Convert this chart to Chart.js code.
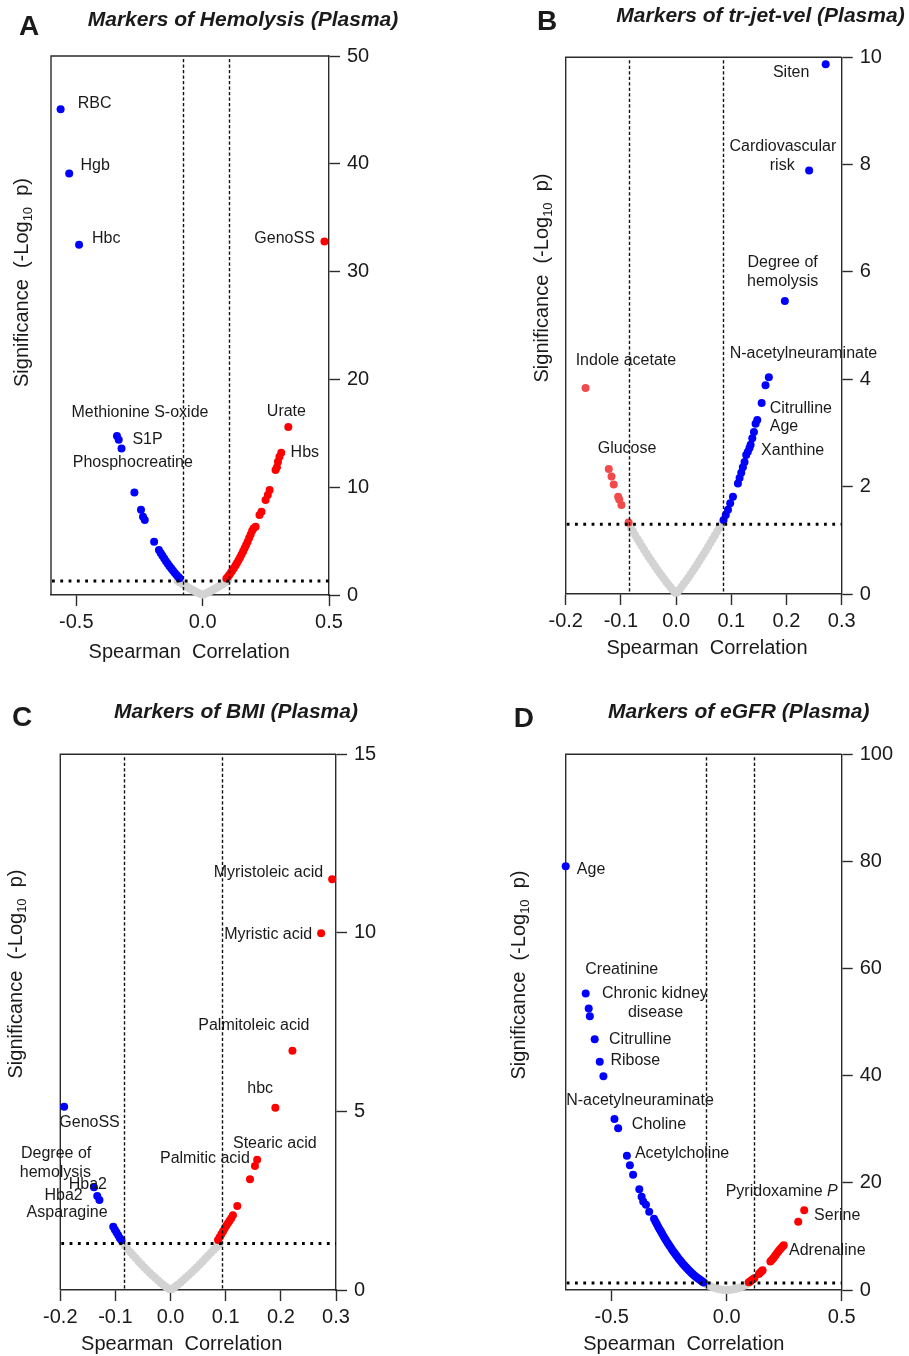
<!DOCTYPE html>
<html><head><meta charset="utf-8">
<script src="https://cdn.jsdelivr.net/npm/chart.js@4.4.1/dist/chart.umd.min.js"></script>
<style>
html,body{margin:0;padding:0;background:#fff;}
body{width:909px;height:1356px;position:relative;overflow:hidden;}
canvas{position:absolute;}
</style></head><body>
<canvas id="cA" width="455" height="680" style="left:0px;top:0px"></canvas>
<canvas id="cB" width="454" height="680" style="left:455px;top:0px"></canvas>
<canvas id="cC" width="455" height="676" style="left:0px;top:680px"></canvas>
<canvas id="cD" width="454" height="676" style="left:455px;top:680px"></canvas>
<script>
// ---------- Panel A: Hemolysis ----------
const hemolysisXTicks = [-0.5, 0.0, 0.5];
const hemolysisYTicks = [0, 10, 20, 30, 40, 50];
const hemolysisGray = [[-0.1,1.32],[-0.092,1.2],[-0.084,1.08],[-0.076,0.96],[-0.068,0.85],[-0.06,0.74],[-0.052,0.63],[-0.044,0.52],[-0.036,0.42],[-0.028,0.32],[-0.02,0.22],[-0.012,0.13],[-0.004,0.04],[0.004,0.04],[0.012,0.13],[0.02,0.22],[0.028,0.32],[0.036,0.42],[0.044,0.52],[0.052,0.63],[0.06,0.74],[0.068,0.85],[0.076,0.96],[0.084,1.08],[0.092,1.2],[0.1,1.32]];
const hemolysisBlue = [[-0.562,45.05],[-0.528,39.1],[-0.489,32.5],[-0.339,14.75],[-0.332,14.4],[-0.321,13.6],[-0.27,9.5],[-0.244,7.9],[-0.236,7.26],[-0.229,6.96],[-0.192,4.95],[-0.173,4.17],[-0.166,3.9],[-0.159,3.64],[-0.152,3.38],[-0.145,3.13],[-0.138,2.9],[-0.131,2.67],[-0.124,2.45],[-0.117,2.24],[-0.11,2.04],[-0.103,1.85],[-0.096,1.66],[-0.091,1.55]];
const hemolysisRed = [[0.094,1.53],[0.1,1.7],[0.106,1.89],[0.112,2.08],[0.118,2.29],[0.124,2.51],[0.13,2.74],[0.136,2.97],[0.142,3.22],[0.148,3.49],[0.154,3.76],[0.16,4.04],[0.166,4.33],[0.172,4.64],[0.178,4.95],[0.184,5.28],[0.19,5.62],[0.196,5.96],[0.202,6.2],[0.2095,6.34],[0.225,7.42],[0.233,7.73],[0.249,8.81],[0.258,9.28],[0.265,9.74],[0.2885,11.6],[0.294,11.85],[0.298,12.37],[0.304,12.83],[0.311,13.2],[0.339,15.58],[0.482,32.8]];
const hemolysisLabels = [
 {t:'RBC', x:-0.494, y:45.6, a:'left'},
 {t:'Hgb', x:-0.483, y:39.8, a:'left'},
 {t:'Hbc', x:-0.4375, y:33.1, a:'left'},
 {t:'GenoSS', x:0.444, y:33.1, a:'right'},
 {t:'Methionine S-oxide', x:-0.519, y:16.95, a:'left'},
 {t:'S1P', x:-0.278, y:14.4, a:'left'},
 {t:'Phosphocreatine', x:-0.514, y:12.27, a:'left'},
 {t:'Urate', x:0.254, y:17.0, a:'left'},
 {t:'Hbs', x:0.348, y:13.2, a:'left'}];

// ---------- Panel B: tr-jet-vel ----------
const trjetXTicks = [-0.2, -0.1, 0.0, 0.1, 0.2, 0.3];
const trjetYTicks = [0, 2, 4, 6, 8, 10];
const trjetGray = [[-0.086,1.313],[-0.082,1.24],[-0.078,1.167],[-0.074,1.096],[-0.07,1.026],[-0.066,0.958],[-0.062,0.89],[-0.058,0.824],[-0.054,0.759],[-0.05,0.695],[-0.046,0.632],[-0.042,0.571],[-0.038,0.511],[-0.034,0.452],[-0.03,0.394],[-0.026,0.338],[-0.022,0.282],[-0.018,0.228],[-0.014,0.175],[-0.01,0.124],[-0.006,0.073],[-0.002,0.024],
 [0.002,0.027],[0.006,0.08],[0.01,0.135],[0.014,0.19],[0.018,0.245],[0.022,0.305],[0.026,0.365],[0.03,0.425],[0.034,0.485],[0.038,0.55],[0.042,0.615],[0.046,0.68],[0.05,0.745],[0.054,0.81],[0.058,0.88],[0.062,0.95],[0.066,1.02],[0.07,1.09],[0.074,1.16],[0.078,1.23],[0.082,1.3],[0.084,1.33]];
const trjetBlue = [[0.086,1.38],[0.09,1.47],[0.094,1.57],[0.098,1.69],[0.103,1.81],[0.112,2.06],[0.115,2.16],[0.118,2.26],[0.121,2.36],[0.124,2.46],[0.127,2.59],[0.13,2.65],[0.133,2.72],[0.135,2.78],[0.138,2.9],[0.141,3.02],[0.144,3.17],[0.147,3.24],[0.155,3.56],[0.162,3.89],[0.168,4.04],[0.197,5.46],[0.241,7.89],[0.271,9.87]];
const trjetRed = [[-0.164,3.84],[-0.122,2.33],[-0.117,2.19],[-0.113,2.04],[-0.105,1.81],[-0.103,1.76],[-0.099,1.66],[-0.086,1.33]];
const trjetLabels = [
 {t:'Siten', x:0.2415, y:9.72, a:'right'},
 {t:'Cardiovascular', x:0.1935, y:8.335, a:'center'},
 {t:'risk', x:0.1922, y:7.98, a:'center'},
 {t:'Degree of', x:0.193, y:6.18, a:'center'},
 {t:'hemolysis', x:0.193, y:5.82, a:'center'},
 {t:'Indole acetate', x:-0.182, y:4.34, a:'left'},
 {t:'N-acetylneuraminate', x:0.097, y:4.485, a:'left'},
 {t:'Citrulline', x:0.1696, y:3.447, a:'left'},
 {t:'Age', x:0.1696, y:3.117, a:'left'},
 {t:'Xanthine', x:0.154, y:2.664, a:'left'},
 {t:'Glucose', x:-0.142, y:2.70, a:'left'}];

// ---------- Panel C: BMI ----------
const bmiXTicks = [-0.2, -0.1, 0.0, 0.1, 0.2, 0.3];
const bmiYTicks = [0, 5, 10, 15];
const bmiGray = [[-0.088,1.33],[-0.083,1.24],[-0.078,1.15],[-0.073,1.06],[-0.068,0.97],[-0.063,0.89],[-0.058,0.8],[-0.053,0.72],[-0.048,0.64],[-0.043,0.56],[-0.038,0.48],[-0.033,0.41],[-0.028,0.34],[-0.023,0.27],[-0.018,0.2],[-0.013,0.14],[-0.008,0.085],[-0.003,0.03],
 [0.003,0.03],[0.008,0.09],[0.013,0.15],[0.018,0.21],[0.023,0.28],[0.028,0.35],[0.033,0.42],[0.038,0.49],[0.043,0.57],[0.048,0.64],[0.053,0.72],[0.058,0.8],[0.063,0.88],[0.068,0.96],[0.073,1.04],[0.078,1.12],[0.083,1.2],[0.088,1.29]];
const bmiBlue = [[-0.193,5.13],[-0.139,2.88],[-0.133,2.63],[-0.129,2.52],[-0.104,1.77],[-0.101,1.69],[-0.098,1.61],[-0.095,1.53],[-0.092,1.45],[-0.089,1.39]];
const bmiRed = [[0.086,1.4],[0.089,1.48],[0.092,1.56],[0.095,1.64],[0.098,1.72],[0.101,1.8],[0.104,1.87],[0.107,1.94],[0.11,2.01],[0.113,2.09],[0.121,2.35],[0.144,3.1],[0.153,3.47],[0.157,3.65],[0.19,5.1],[0.221,6.7],[0.273,9.99],[0.293,11.5]];
const bmiLabels = [
 {t:'Myristoleic acid', x:0.2767, y:11.68, a:'right'},
 {t:'Myristic acid', x:0.2568, y:9.96, a:'right'},
 {t:'Palmitoleic acid', x:0.151, y:7.39, a:'center'},
 {t:'hbc', x:0.1625, y:5.65, a:'center'},
 {t:'Stearic acid', x:0.189, y:4.11, a:'center'},
 {t:'Palmitic acid', x:0.0622, y:3.69, a:'center'},
 {t:'GenoSS', x:-0.147, y:4.69, a:'center'},
 {t:'Degree of', x:-0.2076, y:3.83, a:'center'},
 {t:'hemolysis', x:-0.209, y:3.29, a:'center'},
 {t:'Hba2', x:-0.15, y:2.94, a:'center'},
 {t:'Hba2', x:-0.194, y:2.64, a:'center'},
 {t:'Asparagine', x:-0.1877, y:2.17, a:'center'}];

// ---------- Panel D: eGFR ----------
const egfrXTicks = [-0.5, 0.0, 0.5];
const egfrYTicks = [0, 20, 40, 60, 80, 100];
const egfrGray = [[-0.095,1.25],[-0.085,1.0],[-0.075,0.8],[-0.065,0.6],[-0.055,0.43],[-0.045,0.3],[-0.035,0.18],[-0.025,0.1],[-0.015,0.04],[-0.005,0.01],[0.005,0.01],[0.015,0.04],[0.025,0.1],[0.035,0.18],[0.045,0.3],[0.055,0.43],[0.065,0.6],[0.075,0.8],[0.085,1.0],[0.095,1.25]];
const egfrBlue = [[-0.70,79.1],[-0.613,55.35],[-0.6,52.55],[-0.595,51.1],[-0.574,46.8],[-0.552,42.6],[-0.536,39.9],[-0.488,31.9],[-0.472,30.2],[-0.434,25.06],[-0.421,23.3],[-0.407,21.5],[-0.38,18.8],[-0.37,17.4],[-0.363,16.5],[-0.351,15.9],[-0.337,14.6],
 [-0.316,13.28],[-0.31,12.79],[-0.304,12.3],[-0.298,11.82],[-0.292,11.35],[-0.286,10.9],[-0.28,10.45],[-0.274,10.01],[-0.268,9.58],[-0.262,9.16],[-0.256,8.75],[-0.25,8.35],[-0.244,7.96],[-0.238,7.58],[-0.232,7.2],[-0.226,6.84],[-0.22,6.49],[-0.214,6.15],[-0.208,5.81],[-0.202,5.49],[-0.196,5.17],[-0.19,4.87],[-0.184,4.57],[-0.178,4.28],[-0.172,4.0],[-0.166,3.74],[-0.16,3.48],[-0.154,3.23],[-0.148,2.99],[-0.142,2.76],[-0.136,2.54],[-0.13,2.33],[-0.124,2.13],[-0.118,1.94],[-0.112,1.76],[-0.106,1.58],[-0.1,1.42]];
const egfrRed = [[0.096,1.45],[0.102,1.6],[0.108,1.8],[0.114,2.0],[0.12,2.2],[0.14,3.0],[0.146,3.25],[0.152,3.5],[0.156,3.7],[0.19,5.3],[0.196,5.6],[0.202,5.9],[0.208,6.25],[0.214,6.6],[0.22,6.95],[0.226,7.3],[0.232,7.6],[0.238,7.9],[0.244,8.15],[0.248,8.35],[0.311,12.75],[0.337,14.9]];
const egfrLabels = [
 {t:'Age', x:-0.6515, y:78.5, a:'left'},
 {t:'Creatinine', x:-0.615, y:59.9, a:'left'},
 {t:'Chronic kidney', x:-0.542, y:55.35, a:'left'},
 {t:'disease', x:-0.3096, y:51.8, a:'center'},
 {t:'Citrulline', x:-0.5116, y:46.77, a:'left'},
 {t:'Ribose', x:-0.5055, y:42.9, a:'left'},
 {t:'N-acetylneuraminate', x:-0.698, y:35.45, a:'left'},
 {t:'Choline', x:-0.4123, y:30.8, a:'left'},
 {t:'Acetylcholine', x:-0.399, y:25.37, a:'left'},
 {t:'Pyridoxamine ', x:-0.0044, y:18.34, a:'left', tail:'P'},
 {t:'Serine', x:0.380, y:13.87, a:'left'},
 {t:'Adrenaline', x:0.271, y:7.28, a:'left'}];

// ---------- drawing ----------
const FAM = '"Liberation Sans", Arial, Helvetica, sans-serif';
const INK = '#1a1a1a';
const AXC = '#2b2b2b';
Chart.defaults.font.family = FAM;
Chart.defaults.color = INK;

function makePanel(p) {
  const el = document.getElementById(p.id);
  const W = el.width, H = el.height;
  const L = p.area.l - p.cx, T = p.area.t - p.cy, R = p.area.r - p.cx, B = p.area.b - p.cy;
  const ds = (data, color, order) => ({data, backgroundColor: color, borderWidth: 0, pointRadius: 4, pointHoverRadius: 4, clip: false, order});
  const plugin = {
    id: 'deco' + p.id,
    beforeDatasetsDraw(chart) {
      const ctx = chart.ctx, a = chart.chartArea;
      ctx.save();
      ctx.strokeStyle = AXC; ctx.lineWidth = 1.4;
      ctx.beginPath();
      ctx.moveTo(a.left, a.bottom); ctx.lineTo(a.left, a.top); ctx.lineTo(a.right, a.top);
      ctx.stroke();
      ctx.restore();
    },
    afterDatasetsDraw(chart) {
      const ctx = chart.ctx, a = chart.chartArea, xs = chart.scales.x, ys = chart.scales.y;
      ctx.save();
      // dashed verticals
      ctx.strokeStyle = '#111'; ctx.lineWidth = 1.4; ctx.setLineDash([3.2, 2.3]);
      p.vlines.forEach(v => {
        const px = Math.round(xs.getPixelForValue(v)) + 0.5;
        ctx.beginPath(); ctx.moveTo(px, a.top + 3); ctx.lineTo(px, a.bottom); ctx.stroke();
      });
      // dotted horizontal
      ctx.strokeStyle = '#000'; ctx.lineWidth = 3; ctx.setLineDash([2.8, 5.5]);
      const hy = ys.getPixelForValue(p.hline);
      ctx.beginPath(); ctx.moveTo(a.left + 1, hy); ctx.lineTo(a.right, hy); ctx.stroke();
      ctx.setLineDash([]);
      // point labels
      ctx.fillStyle = INK; ctx.textBaseline = 'middle';
      p.labels.forEach(l => {
        const px = xs.getPixelForValue(l.x), py = ys.getPixelForValue(l.y);
        ctx.font = '16px ' + FAM;
        if (l.tail) {
          ctx.textAlign = 'left';
          ctx.fillText(l.t, px, py);
          const w = ctx.measureText(l.t).width;
          ctx.font = 'italic 16px ' + FAM;
          ctx.fillText(l.tail, px + w, py);
        } else {
          ctx.textAlign = l.a;
          ctx.fillText(l.t, px, py);
        }
      });
      // title
      ctx.textBaseline = 'alphabetic'; ctx.textAlign = 'center';
      ctx.font = 'italic bold 21px ' + FAM;
      ctx.fillText(p.title, p.titlePos[0] - p.cx, p.titlePos[1] - p.cy);
      // panel letter
      ctx.font = 'bold 28px ' + FAM;
      ctx.textBaseline = 'middle';
      ctx.fillText(p.letter, p.letterPos[0] - p.cx, p.letterPos[1] - p.cy);
      // x title
      ctx.textBaseline = 'alphabetic';
      ctx.font = '20px ' + FAM;
      ctx.fillText('Spearman  Correlation', p.xTitlePos[0] - p.cx, p.xTitlePos[1] - p.cy);
      // y title (rotated, with subscript)
      ctx.save();
      ctx.translate(p.yTitlePos[0] - p.cx, p.yTitlePos[1] - p.cy);
      ctx.rotate(-Math.PI / 2);
      ctx.textAlign = 'left';
      const big = '20px ' + FAM, small = '13px ' + FAM;
      const parts = [['Significance  (-Log', big, 0], ['10', small, 4], ['  p)', big, 0]];
      let total = 0;
      parts.forEach(q => { ctx.font = q[1]; total += ctx.measureText(q[0]).width; });
      let xx = -total / 2;
      parts.forEach(q => { ctx.font = q[1]; ctx.fillText(q[0], xx, q[2]); xx += ctx.measureText(q[0]).width; });
      ctx.restore();
      ctx.restore();
    }
  };
  return new Chart(el, {
    type: 'scatter',
    data: { datasets: [ds(p.blue, '#0000ff', 1), ds(p.red, p.redColor || '#ff0000', 2), ds(p.gray, '#d3d3d3', 10)] },
    options: {
      responsive: false, animation: false, events: [],
      layout: { autoPadding: false, padding: { left: L, top: T, right: 0, bottom: 0 } },
      plugins: { legend: { display: false }, tooltip: { enabled: false } },
      scales: {
        x: {
          type: 'linear', position: 'bottom', min: p.xMin, max: p.xMax,
          afterBuildTicks: s => { s.ticks = p.xTicks.map(v => ({ value: v })); },
          afterFit: s => { s.height = H - B; },
          ticks: { font: { size: 20 }, color: INK, padding: 4, maxRotation: 0, autoSkip: false, callback: v => Number(v).toFixed(1) },
          grid: { display: true, drawOnChartArea: false, drawTicks: true, tickLength: 11, tickColor: AXC, tickWidth: 1.4 },
          border: { display: true, color: AXC, width: 1.4 }
        },
        y: {
          type: 'linear', position: 'right', min: 0, max: p.yMax,
          afterBuildTicks: s => { s.ticks = p.yTicks.map(v => ({ value: v })); },
          afterFit: s => { s.width = W - R; },
          ticks: { font: { size: 20 }, color: INK, padding: 7, autoSkip: false, callback: v => String(v) },
          grid: { display: true, drawOnChartArea: false, drawTicks: true, tickLength: 11, tickColor: AXC, tickWidth: 1.4 },
          border: { display: true, color: AXC, width: 1.4 }
        }
      }
    },
    plugins: [plugin]
  });
}

makePanel({ id: 'cA', cx: 0, cy: 0, area: { l: 51, t: 56, r: 329, b: 595 }, xMin: -0.6, xMax: 0.5, yMax: 50,
  xTicks: hemolysisXTicks, yTicks: hemolysisYTicks, gray: hemolysisGray, blue: hemolysisBlue, red: hemolysisRed,
  vlines: [-0.079, 0.1055], hline: 1.3, labels: hemolysisLabels,
  title: 'Markers of Hemolysis (Plasma)', titlePos: [243, 26], letter: 'A', letterPos: [29.2, 27],
  xTitlePos: [189.2, 658], yTitlePos: [27.6, 282.5] });

makePanel({ id: 'cB', cx: 455, cy: 0, area: { l: 565.7, t: 57.3, r: 841.7, b: 594 }, xMin: -0.2, xMax: 0.3, yMax: 10,
  xTicks: trjetXTicks, yTicks: trjetYTicks, gray: trjetGray, blue: trjetBlue, red: trjetRed, redColor: '#f24a4a',
  vlines: [-0.0846, 0.085], hline: 1.3, labels: trjetLabels,
  title: 'Markers of tr-jet-vel (Plasma)', titlePos: [760.5, 21.7], letter: 'B', letterPos: [547, 22],
  xTitlePos: [707, 654], yTitlePos: [548, 278] });

makePanel({ id: 'cC', cx: 0, cy: 680, area: { l: 60.3, t: 754.3, r: 336, b: 1290 }, xMin: -0.2, xMax: 0.3, yMax: 15,
  xTicks: bmiXTicks, yTicks: bmiYTicks, gray: bmiGray, blue: bmiBlue, red: bmiRed,
  vlines: [-0.0847, 0.093], hline: 1.3, labels: bmiLabels,
  title: 'Markers of BMI (Plasma)', titlePos: [236, 718.3], letter: 'C', letterPos: [22, 718.3],
  xTitlePos: [181.7, 1349.5], yTitlePos: [21.5, 974] });

makePanel({ id: 'cD', cx: 455, cy: 680, area: { l: 565.7, t: 754.3, r: 841.7, b: 1290 }, xMin: -0.7, xMax: 0.5, yMax: 100,
  xTicks: egfrXTicks, yTicks: egfrYTicks, gray: egfrGray, blue: egfrBlue, red: egfrRed,
  vlines: [-0.09, 0.118], hline: 1.3, labels: egfrLabels,
  title: 'Markers of eGFR (Plasma)', titlePos: [738.7, 718.3], letter: 'D', letterPos: [523.8, 719.2],
  xTitlePos: [683.8, 1349.5], yTitlePos: [524.5, 975] });
</script>
</body></html>
